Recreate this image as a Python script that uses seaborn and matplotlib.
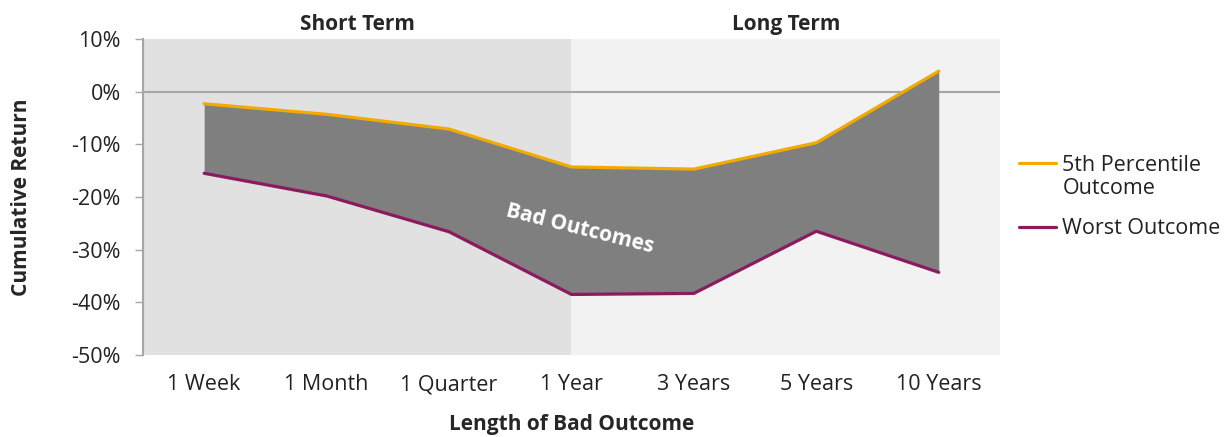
import matplotlib
matplotlib.use("Agg")
import matplotlib.pyplot as plt
import seaborn as sns
import pandas as pd
import numpy as np
from matplotlib.ticker import FuncFormatter
from matplotlib.legend_handler import HandlerLine2D

# data (cumulative return, %)
periods = ["1 Week", "1 Month", "1 Quarter", "1 Year", "3 Years", "5 Years", "10 Years"]
pct5 = [-2.3, -4.3, -7.1, -14.3, -14.7, -9.7, 3.9]
worst = [-15.5, -19.8, -26.6, -38.5, -38.3, -26.5, -34.3]

ORANGE = "#f2a900"
PURPLE = "#8b1a5f"


class TopLine(HandlerLine2D):
    # put the legend line next to the first row of a two-row label
    def create_artists(self, legend, orig_handle, xdescent, ydescent,
                       width, height, fontsize, trans):
        artists = super().create_artists(legend, orig_handle, xdescent, ydescent,
                                         width, height, fontsize, trans)
        for a in artists:
            a.set_ydata(np.asarray(a.get_ydata()) + 0.68 * fontsize)
        return artists


sns.set_theme(style="white")
plt.rcParams["font.family"] = ["Open Sans", "DejaVu Sans"]

x = np.arange(len(periods))
df = pd.DataFrame({
    "x": np.concatenate([x, x]),
    "value": pct5 + worst,
    "series": ["5th Percentile\nOutcome"] * len(x) + ["Worst Outcome"] * len(x),
})

fig = plt.figure(figsize=(12.25, 4.37), dpi=100)
ax = fig.add_axes([0.1167, 0.1876, 0.6996, 0.7232])

split = periods.index("1 Year")
ax.axvspan(-0.5, split, color="#e1e1e1", zorder=0, lw=0)
ax.axvspan(split, len(periods) - 0.5, color="#f2f2f2", zorder=0, lw=0)
ax.axhline(0, color="#a6a6a6", lw=1.5, zorder=1)

ax.fill_between(x, worst, pct5, color="#7f7f7f", lw=0, zorder=2)
sns.lineplot(data=df, x="x", y="value", hue="series",
             palette=[ORANGE, PURPLE], lw=2.3, ax=ax, zorder=3)

ax.set_xlim(-0.5, len(periods) - 0.5)
ax.set_ylim(-50, 10)
ax.set_yticks(np.arange(-50, 11, 10))
ax.yaxis.set_major_formatter(FuncFormatter(lambda v, p: f"{v:.0f}%"))
ax.set_xticks(x)
ax.set_xticklabels(periods)
ax.tick_params(axis="y", left=True, length=6, width=1, color="#a6a6a6",
               labelsize=15.5, labelcolor="#222222", pad=10)
ax.tick_params(axis="x", bottom=False, labelsize=15.5, labelcolor="#222222", pad=8)

for s in ["top", "right", "bottom"]:
    ax.spines[s].set_visible(False)
ax.spines["left"].set_color("#a6a6a6")
ax.spines["left"].set_linewidth(1.5)

ax.set_xlabel("Length of Bad Outcome", fontsize=15, fontweight="bold", labelpad=13)
ax.set_ylabel("Cumulative Return", fontsize=15, fontweight="bold", labelpad=28)

ax.text((-0.5 + split) / 2, 10.8, "Short Term", ha="center", va="bottom",
        fontsize=15, fontweight="bold")
ax.text((split + len(periods) - 0.5) / 2, 10.8, "Long Term", ha="center", va="bottom",
        fontsize=15, fontweight="bold")

ax.text(3.07, -26, "Bad Outcomes", color="white", fontsize=15, fontweight="bold",
        rotation=-14, ha="center", va="center", zorder=4)

handles, labels = ax.get_legend_handles_labels()
leg = ax.legend(handles, labels, loc="center left", bbox_to_anchor=(1.0, 0.5),
                frameon=False, fontsize=15.5, handlelength=1.7, handletextpad=0.3,
                labelspacing=0.9, handler_map={handles[0]: TopLine()})
for t in leg.get_texts():
    t.set_color("#222222")
    t.set_linespacing(1.15)

fig.savefig("out.png", dpi=100)
